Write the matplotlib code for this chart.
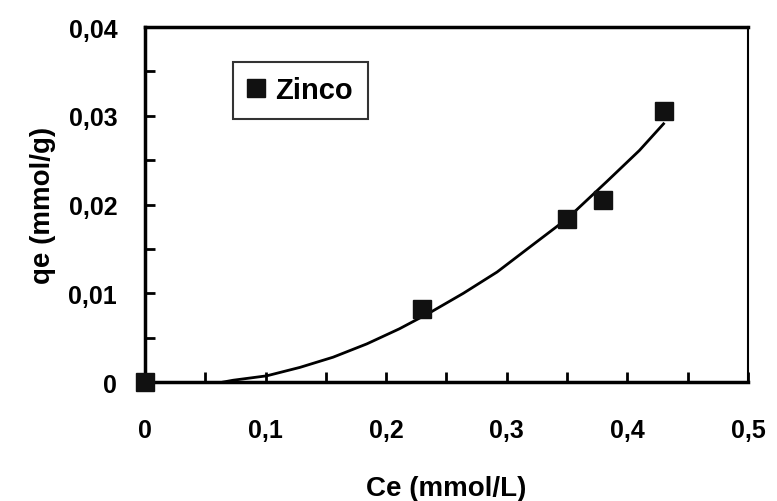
import matplotlib.pyplot as plt
from matplotlib.ticker import MultipleLocator

plt.rcParams['font.family'] = ['Liberation Sans', 'DejaVu Sans']

# measured points (Zinco)
ce = [0.0, 0.23, 0.35, 0.38, 0.43]
qe = [0.0, 0.0082, 0.0184, 0.0205, 0.0306]

# fitted curve
curve_x = [0.065, 0.073, 0.101, 0.1285, 0.156, 0.184, 0.211, 0.236, 0.264,
           0.292, 0.319, 0.35, 0.383, 0.41, 0.43]
curve_y = [0.0, 0.0002, 0.0007, 0.00165, 0.0028, 0.0043, 0.0060, 0.0078, 0.0100,
           0.0124, 0.0152, 0.0184, 0.0226, 0.0261, 0.0291]

xticks = [0, 0.1, 0.2, 0.3, 0.4, 0.5]
xticklabels = ['0', '0,1', '0,2', '0,3', '0,4', '0,5']
yticks = [0, 0.01, 0.02, 0.03, 0.04]
yticklabels = ['0', '0,01', '0,02', '0,03', '0,04']

fig = plt.figure(figsize=(7.77, 5.02), dpi=100)
ax = fig.add_axes([0.1866, 0.237, 0.776, 0.707])

ax.plot(curve_x, curve_y, color='black', lw=2, zorder=2)
ax.plot(ce, qe, 's', color='#111111', markersize=13, label='Zinco',
        clip_on=False, zorder=3)

ax.set_xlim(0, 0.5)
ax.set_ylim(0, 0.04)
ax.set_xticks(xticks)
ax.set_xticklabels(xticklabels)
ax.set_yticks(yticks)
ax.set_yticklabels(yticklabels)
ax.xaxis.set_minor_locator(MultipleLocator(0.05))
ax.yaxis.set_minor_locator(MultipleLocator(0.005))

ax.tick_params(which='both', direction='in', length=7, width=2, top=False, right=False)
ax.tick_params(axis='x', which='major', labelsize=18, pad=26)
ax.tick_params(axis='y', which='major', labelsize=18, pad=20)
for lab in ax.get_xticklabels() + ax.get_yticklabels():
    lab.set_fontweight('bold')

for side in ['left', 'bottom', 'top']:
    ax.spines[side].set_linewidth(2.5)
ax.spines['right'].set_linewidth(1.5)

ax.set_xlabel('Ce (mmol/L)', fontsize=20, fontweight='bold', labelpad=24)
ax.set_ylabel('qe (mmol/g)', fontsize=20, fontweight='bold', labelpad=9)

leg = ax.legend(loc='upper left', bbox_to_anchor=(0.146, 0.902),
                prop={'weight': 'bold', 'size': 21}, frameon=True, fancybox=False,
                handlelength=0.6, handletextpad=0.35, borderpad=0.5,
                borderaxespad=0)
leg.get_frame().set_edgecolor('black')
leg.get_frame().set_linewidth(1.5)

fig.savefig('out.png', dpi=100)
